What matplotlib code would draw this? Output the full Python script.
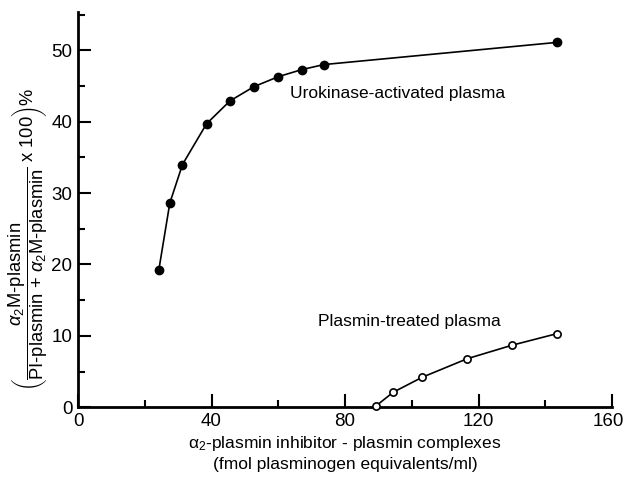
import matplotlib
matplotlib.use("Agg")
import matplotlib.pyplot as plt
from matplotlib.ticker import MultipleLocator
from matplotlib.transforms import ScaledTranslation

plt.rcParams['font.family'] = ['Liberation Sans', 'DejaVu Sans']
plt.rcParams['mathtext.fontset'] = 'custom'
plt.rcParams['mathtext.rm'] = 'Liberation Sans'
plt.rcParams['mathtext.it'] = 'Liberation Sans:italic'

# Urokinase-activated plasma (filled)
uro_x = [24.2, 27.5, 31.3, 38.5, 45.5, 52.7, 60.0, 67.1, 73.7, 143.4]
uro_y = [19.2, 28.6, 34.0, 39.7, 42.9, 44.9, 46.3, 47.3, 48.0, 51.1]
# Plasmin-treated plasma (open)
pl_x = [89.3, 94.4, 103.1, 116.6, 130.1, 143.4]
pl_y = [0.2, 2.1, 4.2, 6.8, 8.7, 10.3]

x_ticks = [0, 40, 80, 120, 160]
y_ticks = [0, 10, 20, 30, 40, 50]

fig = plt.figure(figsize=(6.24, 4.78), dpi=100)
ax = fig.add_axes([0.125, 0.148, 0.856, 0.8275])

ax.plot(uro_x, uro_y, '-', color='black', lw=1.2, marker='o', ms=6,
        mfc='black', mec='black', zorder=3)
ax.plot(pl_x, pl_y, '-', color='black', lw=1.2, marker='o', ms=5.2,
        mfc='white', mec='black', mew=1.2, zorder=3, clip_on=False)

ax.set_xlim(0, 160)
ax.set_ylim(0, 55.4)
ax.set_xticks(x_ticks)
ax.set_yticks(y_ticks)
ax.xaxis.set_minor_locator(MultipleLocator(20))
ax.yaxis.set_minor_locator(MultipleLocator(5))

for s in ['top', 'right']:
    ax.spines[s].set_visible(False)
for s in ['left', 'bottom']:
    ax.spines[s].set_linewidth(2.0)

ax.tick_params(which='major', direction='in', length=9.5, width=1.5,
               labelsize=13.5, pad=4)
ax.tick_params(which='minor', direction='in', length=5, width=1.5)

fig.canvas.draw()
lbl = ax.get_xticklabels()[-1]
lbl.set_transform(lbl.get_transform() + ScaledTranslation(-3/72, 0, fig.dpi_scale_trans))

ax.text(63.5, 44.0, 'Urokinase-activated plasma', fontsize=12.5, va='center', ha='left')
ax.text(72.0, 12.0, 'Plasmin-treated plasma', fontsize=12.5, va='center', ha='left')

ax.set_xlabel('α$_2$-plasmin inhibitor - plasmin complexes\n(fmol plasminogen equivalents/ml)',
              fontsize=12.5, linespacing=1.3, labelpad=3)
ax.set_ylabel(r'$\left(\dfrac{\alpha_2\text{M-plasmin}}{\text{PI-plasmin + }\alpha_2\text{M-plasmin}}\ \text{x 100}\right)\%$',
              fontsize=13.2)
ax.yaxis.set_label_coords(-0.052, 0.425)

fig.savefig('out.png', dpi=100)
